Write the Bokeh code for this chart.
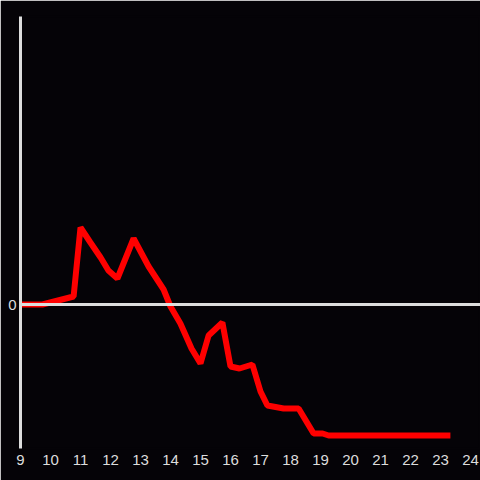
from bokeh.plotting import figure
from bokeh.models import Span, FixedTicker, Range1d
from bokeh.embed import file_html
from bokeh.resources import INLINE

# data (hours vs value)
hours = [9.0, 9.73, 10.77, 11.0, 11.33, 11.67, 11.93, 12.23, 12.77, 13.27, 13.77,
         14.0, 14.33, 14.7, 15.0, 15.27, 15.73, 16.0, 16.3, 16.73, 17.0, 17.23,
         17.77, 18.27, 18.77, 19.07, 19.27, 23.33]
values = [0.0, 0.0, 0.8, 7.7, 6.2, 4.7, 3.4, 2.6, 6.6, 3.8, 1.5,
          -0.2, -1.9, -4.4, -5.9, -3.1, -1.8, -6.2, -6.4, -6.0, -8.7, -10.1,
          -10.4, -10.4, -12.9, -12.9, -13.1, -13.1]
x_ticks = list(range(9, 25))
y_ticks = [0]

BG = "#050307"
FG = "#dddddd"

p = figure(width=480, height=480, output_backend="svg", toolbar_location=None,
           x_range=Range1d(9, 24.333), y_range=Range1d(-14.4, 28.8),
           min_border_left=20, min_border_right=0, min_border_top=16, min_border_bottom=32)
p.background_fill_color = BG
p.border_fill_color = BG
p.outline_line_color = BG
p.outline_line_width = 2
p.grid.visible = False

p.xaxis.ticker = FixedTicker(ticks=x_ticks)
p.xaxis.axis_line_color = None
p.xaxis.major_tick_line_color = None
p.xaxis.minor_tick_line_color = None
p.xaxis.major_tick_out = 0
p.xaxis.major_tick_in = 0
p.xaxis.major_label_standoff = 6
p.xaxis.major_label_text_color = FG
p.xaxis.major_label_text_font = "Liberation Sans"
p.xaxis.major_label_text_font_size = "15px"

p.yaxis.ticker = FixedTicker(ticks=y_ticks)
p.yaxis.axis_line_color = FG
p.yaxis.axis_line_width = 3
p.yaxis.major_tick_line_color = None
p.yaxis.minor_tick_line_color = None
p.yaxis.major_tick_out = 0
p.yaxis.major_tick_in = 0
p.yaxis.major_label_standoff = 4
p.yaxis.major_label_text_color = FG
p.yaxis.major_label_text_font = "Liberation Sans"
p.yaxis.major_label_text_font_size = "15px"

p.add_layout(Span(location=0, dimension="width", line_color=FG, line_width=3))

p.line(hours, values, line_color="#ff0000", line_width=6)

open("out.html", "w").write(file_html(p, INLINE))
